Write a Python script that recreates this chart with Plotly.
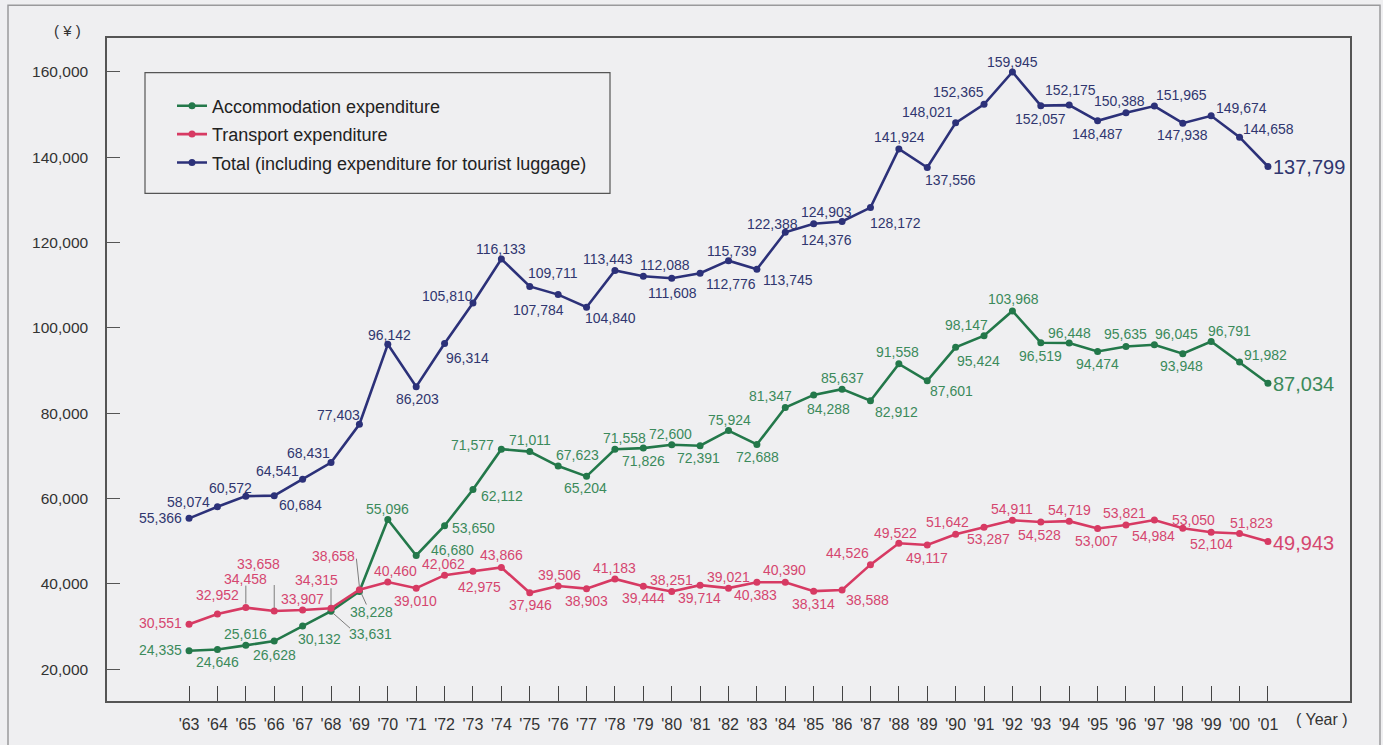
import plotly.graph_objects as go

# ---- data -------------------------------------------------------------
years = list(range(1963, 2002))
year_labels = ["'" + str(y)[2:] for y in years]

accommodation = [24335, 24646, 25616, 26628, 30132, 33631, 38228, 55096, 46680, 53650,
                 62112, 71577, 71011, 67623, 65204, 71558, 71826, 72600, 72391, 75924,
                 72688, 81347, 84288, 85637, 82912, 91558, 87601, 95424, 98147, 103968,
                 96519, 96448, 94474, 95635, 96045, 93948, 96791, 91982, 87034]

transport = [30551, 32952, 34458, 33658, 33907, 34315, 38658, 40460, 39010, 42062,
             42975, 43866, 37946, 39506, 38903, 41183, 39444, 38251, 39714, 39021,
             40383, 40390, 38314, 38588, 44526, 49522, 49117, 51642, 53287, 54911,
             54528, 54719, 53007, 53821, 54984, 53050, 52104, 51823, 49943]

total = [55366, 58074, 60572, 60684, 64541, 68431, 77403, 96142, 86203, 96314,
         105810, 116133, 109711, 107784, 104840, 113443, 112088, 111608, 112776, 115739,
         113745, 122388, 124376, 124903, 128172, 141924, 137556, 148021, 152365, 159945,
         152057, 152175, 148487, 150388, 151965, 147938, 149674, 144658, 137799]

series_names = ["Accommodation expenditure", "Transport expenditure",
                "Total (including expenditure for tourist luggage)"]

# ---- styling ----------------------------------------------------------
FONT = "Liberation Sans, Arial, Helvetica, sans-serif"
BG = "#efeff1"
line_colors = {"acc": "#23784a", "tra": "#d73a63", "tot": "#2c3179"}
text_colors = {"acc": "#3b8a5b", "tra": "#d5466f", "tot": "#30366f"}

# value-label offsets in screen pixels (dx right, dy down) for each year
off_tot = [(-29, 0), (-29, -5), (-15, -8), (26, 9), (-25, -8), (-23, -10), (-21, -9),
           (2, -9), (1, 12), (23, 14), (-25, -7), (0, -10), (23, -13), (-20, 15),
           (24, 11), (-7, -11), (22, -11), (1, 15), (31, 11), (3, -10), (31, 11),
           (-13, -8), (13, 16), (-16, -10), (25, 15), (1, -12), (23, 12), (-28, -11),
           (-26, -12), (0, -10), (0, 13), (1, -15), (0, 13), (-6, -12), (27, -11),
           (0, 12), (30, -8), (29, -8), None]
off_acc = [(-29, -1), (0, 13), (0, -11), (0, 14), (17, 13), (39, 23), (12, 20),
           (0, -11), (36, -5), (29, 2), (29, 6), (-29, -4), (0, -12), (19, -11),
           (-1, 12), (10, -11), (0, 13), (-1, -11), (-2, 12), (1, -11), (1, 13),
           (-15, -11), (15, 14), (0, -11), (26, 11), (-1, -12), (24, 10), (23, 14),
           (-18, -11), (1, -12), (0, 13), (0, -10), (0, 13), (0, -12), (22, -11),
           (-1, 12), (18, -11), (26, -7), None]
off_tra = [(-29, -1), (0, -19), (0, -29), (-16, -47), (0, -11), (-15, -28), (-26, -34),
           (8, -11), (-1, 13), (-1, -11), (7, 16), (0, -12), (1, 12), (1, -11),
           (0, 12), (0, -11), (0, 12), (0, -11), (-1, 13), (0, -11), (-1, 13),
           (-1, -12), (0, 13), (25, 10), (-23, -12), (-3, -10), (0, 13), (-8, -12),
           (4, 12), (0, -11), (-1, 13), (0, -11), (-1, 13), (-1, -12), (-1, 16),
           (11, -8), (0, 12), (12, -10), None]

# leader lines: (key, year, x0, y0, x1, y1) in screen pixels from the point
leaders = [("tra", 1965, 0, -4, 0, -22), ("tra", 1966, 0, -3, 0, -26),
           ("tra", 1968, 0, -3, 0, -20), ("tra", 1969, 0, -3, -3, -31),
           ("acc", 1969, 2, 2, 7, 13), ("acc", 1968, 2, 2, 19, 17)]

series = [("acc", accommodation, off_acc, series_names[0]),
          ("tra", transport, off_tra, series_names[1]),
          ("tot", total, off_tot, series_names[2])]
values_by_key = {k: v for k, v, _, _ in series}

fig = go.Figure()
for i, (key, vals, offs, name) in enumerate(series):
    fig.add_trace(go.Scatter(
        x=years, y=vals, mode="lines+markers", name=name,
        legendgroup=key, legendrank=i,
        line=dict(color=line_colors[key], width=2.6),
        marker=dict(color=line_colors[key], size=7),
        hoverinfo="skip",
    ))

annotations = []
for key, vals, offs, name in series:
    for yr, v, off in zip(years, vals, offs):
        if off is None:
            annotations.append(dict(
                x=yr, y=v, xref="x", yref="y", text=f"{v:,}", showarrow=False,
                xanchor="left", yanchor="middle", xshift=3, yshift=-1,
                font=dict(family=FONT, size=20, color=text_colors[key])))
        else:
            dx, dy = off
            annotations.append(dict(
                x=yr, y=v, xref="x", yref="y", text=f"{v:,}", showarrow=False,
                xanchor="center", yanchor="middle", xshift=dx, yshift=-dy,
                font=dict(family=FONT, size=14, color=text_colors[key])))

shapes = []
for key, yr, x0, y0, x1, y1 in leaders:
    v = values_by_key[key][years.index(yr)]
    shapes.append(dict(
        type="line", xref="x", yref="y", xsizemode="pixel", ysizemode="pixel",
        xanchor=yr, yanchor=v, x0=x0, x1=x1, y0=-y0, y1=-y1,
        line=dict(color="#7d7d7d", width=1)))

# layout geometry (pixels)
W, H = 1383, 745
L, R, T, B = 107, 1350, 38, 708
pw, ph = R - L, B - T


def px(x):
    return (x - L) / pw


def py(y):
    return (B - y) / ph


# outer frame and legend box
shapes.append(dict(type="rect", xref="paper", yref="paper",
                   x0=px(8), x1=px(1380), y0=py(770), y1=py(5),
                   line=dict(color="#9a9a9c", width=1.5), layer="below"))
shapes.append(dict(type="rect", xref="paper", yref="paper",
                   x0=px(145), x1=px(610), y0=py(195), y1=py(73),
                   line=dict(color="#555555", width=1.2), fillcolor=BG, layer="below"))

annotations.append(dict(xref="paper", yref="paper", x=px(67), y=py(30), text="( ¥ )",
                        showarrow=False, xanchor="center", yanchor="middle",
                        font=dict(family=FONT, size=15, color="#333333")))
annotations.append(dict(xref="paper", yref="paper", x=px(1322), y=py(727), text="( Year )",
                        showarrow=False, xanchor="center", yanchor="middle",
                        font=dict(family=FONT, size=16, color="#333333")))

fig.update_layout(
    width=W, height=H,
    margin=dict(l=L, r=W - R, t=T, b=H - B, pad=0),
    paper_bgcolor=BG, plot_bgcolor=BG,
    font=dict(family=FONT, color="#333333"),
    showlegend=True,
    legend=dict(x=px(172), y=py(88), xanchor="left", yanchor="top",
                bgcolor="rgba(0,0,0,0)", borderwidth=0,
                font=dict(family=FONT, size=18, color="#222222"),
                traceorder="grouped", tracegroupgap=2),
    annotations=annotations,
    shapes=shapes,
)

fig.update_xaxes(
    range=[1960.11, 2003.89], tickvals=years, ticktext=year_labels,
    ticks="inside", ticklen=15, tickwidth=1.3, tickcolor="#444444",
    showline=True, mirror=True, linecolor="#555555", linewidth=1.5,
    showgrid=False, zeroline=False, ticklabelstandoff=8,
    tickfont=dict(family=FONT, size=16, color="#333333"),
)
fig.update_yaxes(
    range=[12580, 167900], tickvals=list(range(20000, 160001, 20000)),
    tickformat=",d", ticks="inside", ticklen=13, tickwidth=1.2, tickcolor="#555555",
    showline=True, mirror=True, linecolor="#555555", linewidth=1.5,
    showgrid=False, zeroline=False, ticklabelstandoff=14,
    tickfont=dict(family=FONT, size=15.5, color="#333333"),
)

fig.write_html("out.html")
